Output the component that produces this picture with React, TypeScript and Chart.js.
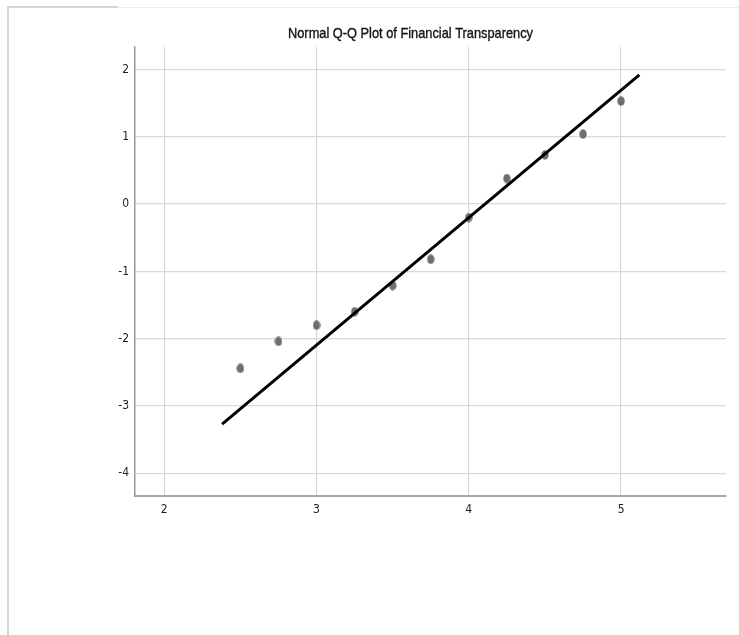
import React, { useEffect, useRef } from "react";
import { Chart, registerables } from "chart.js";

Chart.register(...registerables);

const titleText = "Normal Q-Q Plot of Financial Transparency";
const observedValues = [2.5, 2.75, 3, 3.25, 3.5, 3.75, 4, 4.25, 4.5, 4.75, 5];
const expectedNormal = [-2.44, -2.04, -1.8, -1.6, -1.21, -0.82, -0.2, 0.38, 0.73, 1.04, 1.53];
const lineX = [2.38, 5.12];
const lineY = [-3.27, 1.92];
const xTicks = [2, 3, 4, 5];
const yTicks = [2, 1, 0, -1, -2, -3, -4];
const xRange = [1.808, 5.689];
const yRange = [-4.337, 2.334];

const narrow = '"DejaVu Sans Condensed", "Liberation Sans", sans-serif';

function makeDot(): HTMLCanvasElement {
  const c = document.createElement("canvas");
  c.width = 8;
  c.height = 10;
  const g = c.getContext("2d")!;
  g.fillStyle = "#6e6e6e";
  g.beginPath();
  g.ellipse(4, 5, 3.7, 4.7, 0, 0, Math.PI * 2);
  g.fill();
  return c;
}

const titlePlugin = {
  id: "qqTitle",
  afterDraw(chart: any) {
    const { ctx, chartArea } = chart;
    ctx.save();
    ctx.font = '15px "Liberation Sans", Arial, sans-serif';
    ctx.fillStyle = "#111";
    ctx.strokeStyle = "#111";
    ctx.lineWidth = 0.35;
    ctx.textAlign = "center";
    ctx.textBaseline = "middle";
    const w = ctx.measureText(titleText).width;
    const sx = 245 / w;
    ctx.translate((chartArea.left + chartArea.right) / 2 - 20, chartArea.top - 13);
    ctx.scale(sx, 1);
    ctx.fillText(titleText, 0, 0);
    ctx.strokeText(titleText, 0, 0);
    ctx.restore();
  },
};

export default function App() {
  const ref = useRef<HTMLCanvasElement>(null);
  useEffect(() => {
    const dot = makeDot();
    const chart = new Chart(ref.current!, {
      type: "scatter",
      data: {
        datasets: [
          {
            type: "line",
            data: lineX.map((x, i) => ({ x, y: lineY[i] })),
            borderColor: "#000",
            borderWidth: 3,
            pointRadius: 0,
            fill: false,
            order: 1,
          } as any,
          {
            data: observedValues.map((x, i) => ({ x, y: expectedNormal[i] })),
            pointStyle: dot,
            pointRadius: 4,
            backgroundColor: "#6e6e6e",
            borderWidth: 0,
            order: 2,
          } as any,
        ],
      },
      options: {
        animation: false,
        responsive: false,
        devicePixelRatio: 1,
        layout: { padding: { top: 47, right: 13, left: 0, bottom: 0 } },
        plugins: { legend: { display: false }, tooltip: { enabled: false }, title: { display: false } },
        scales: {
          x: {
            type: "linear",
            min: xRange[0],
            max: xRange[1],
            afterBuildTicks: (s: any) => {
              s.ticks = xTicks.map((v) => ({ value: v }));
            },
            afterFit: (s: any) => {
              s.height = 139;
            },
            grid: { color: "#d9d9d9", lineWidth: 1.2, drawTicks: false },
            border: { color: "#a8a8a8", width: 2 },
            ticks: { padding: 7, color: "#222", font: { family: narrow, size: 12 }, maxRotation: 0 },
          },
          y: {
            type: "linear",
            min: yRange[0],
            max: yRange[1],
            afterBuildTicks: (s: any) => {
              s.ticks = yTicks.map((v) => ({ value: v }));
            },
            afterFit: (s: any) => {
              s.width = 135;
            },
            grid: { color: "#d9d9d9", lineWidth: 1.2, drawTicks: false },
            border: { color: "#9a9a9a", width: 1.5 },
            ticks: { padding: 6, color: "#222", font: { family: narrow, size: 12 } },
          },
        },
      },
      plugins: [titlePlugin],
    });
    return () => chart.destroy();
  }, []);

  return (
    <div style={{ position: "absolute", left: 0, top: 0, width: 739, height: 635, background: "#fff" }}>
      <div style={{ position: "absolute", left: 7, top: 7, width: 2, height: 628, background: "#d6d6d6" }} />
      <div style={{ position: "absolute", left: 7, top: 6, width: 111, height: 2, background: "#d6d6d6" }} />
      <div style={{ position: "absolute", left: 118, top: 7, width: 621, height: 1, background: "#ececec" }} />
      <canvas ref={ref} width={739} height={635} style={{ position: "absolute", left: 0, top: 0 }} />
    </div>
  );
}
